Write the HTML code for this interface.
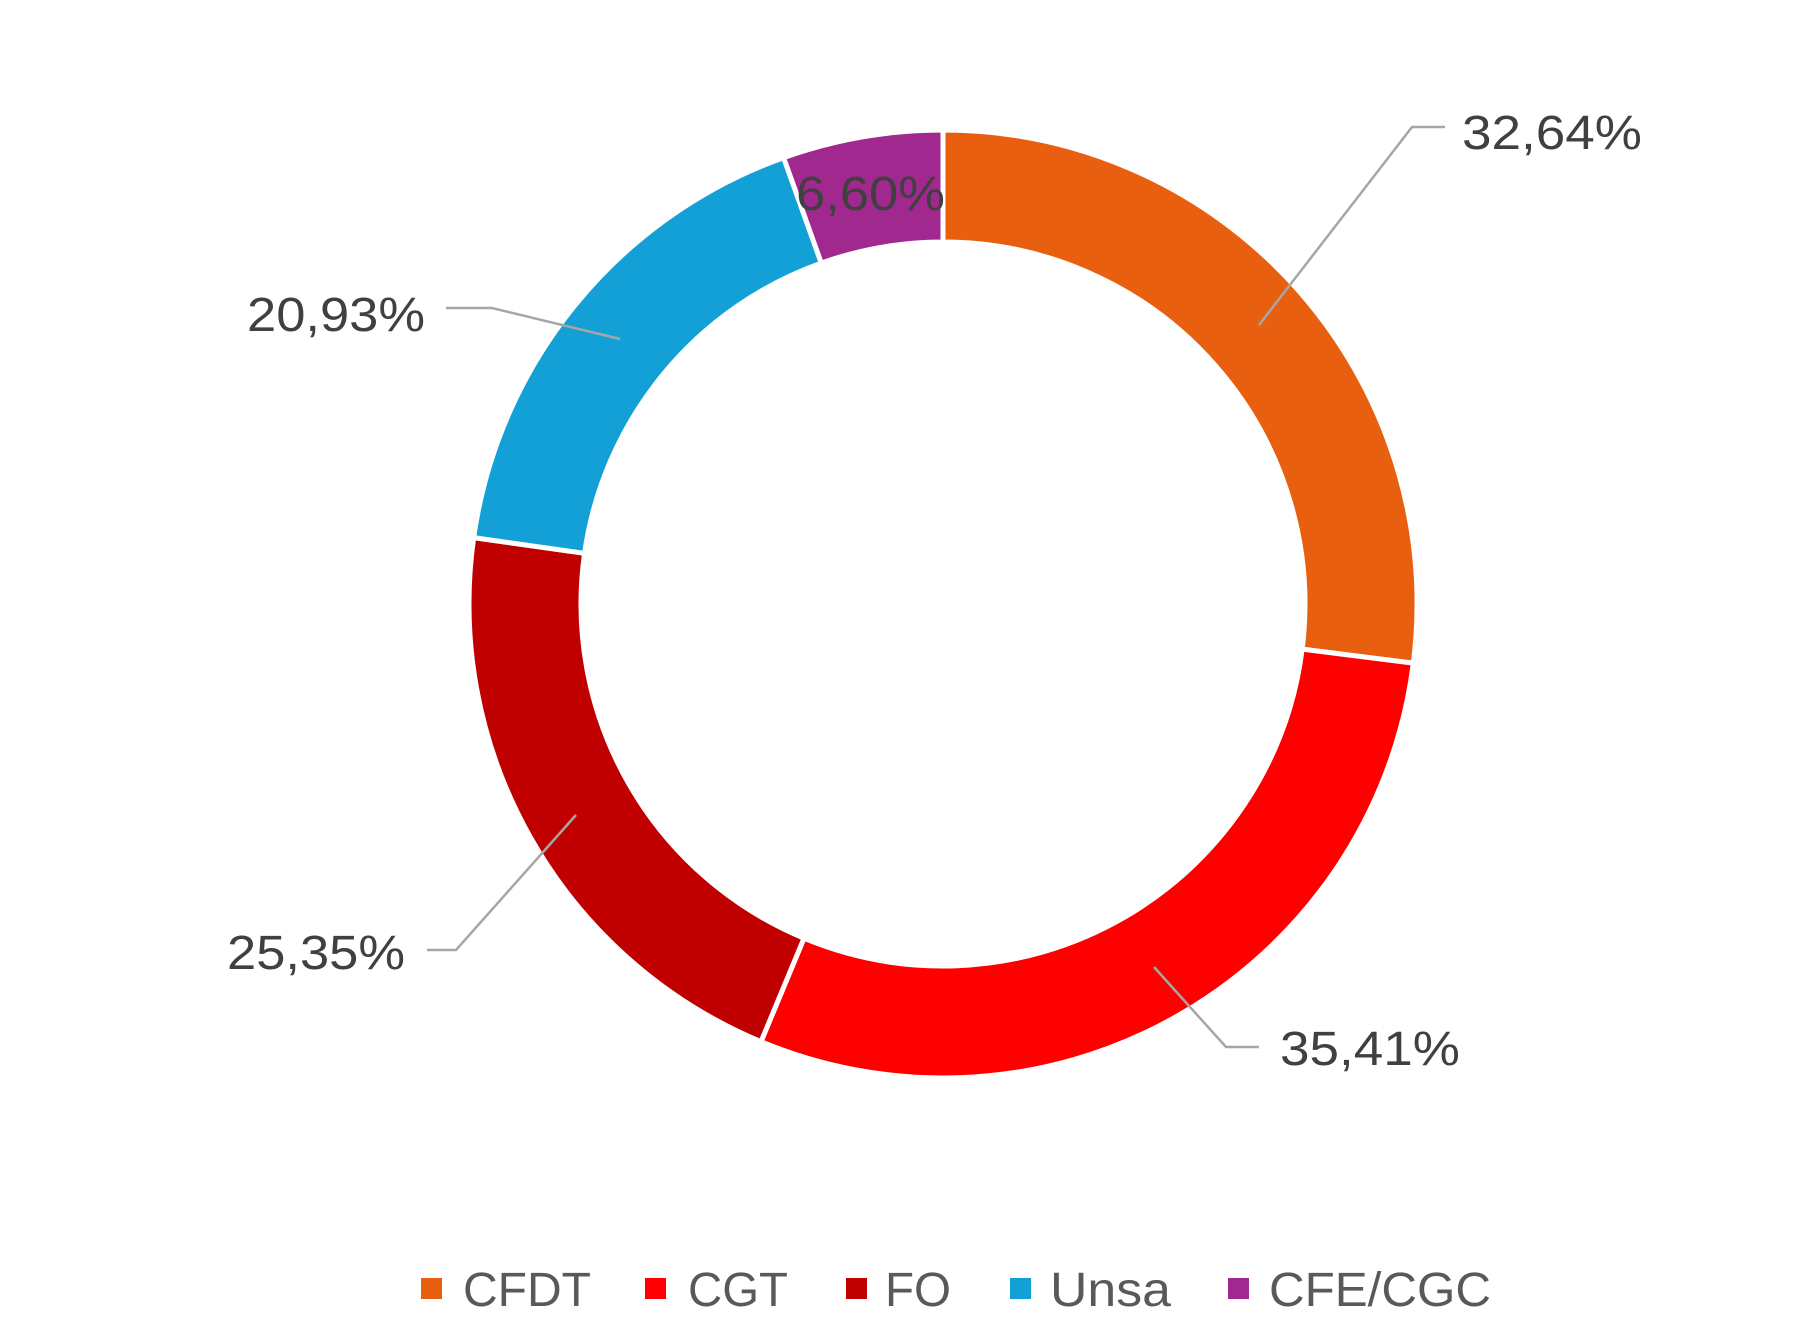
<!DOCTYPE html>
<html><head><meta charset="utf-8"><style>
html,body{margin:0;padding:0;background:#fff;width:1812px;height:1342px;overflow:hidden}
text{font-family:"Liberation Sans",sans-serif;fill:#404040}
</style></head><body>
<svg id="s" width="1812" height="1342" viewBox="0 0 1812 1342" xmlns="http://www.w3.org/2000/svg">
<g transform="translate(-5,-4)">
<g id="arcs"></g>
<g fill="none" stroke="#a6a6a6" stroke-width="2.5">
<polyline points="1264,329 1417,131 1450,131"/>
<polyline points="451,312 497,312 625,343"/>
<polyline points="432,954 461,954 581,819"/>
<polyline points="1159,971 1231,1051 1264,1051"/>
</g>
<g font-size="48">
<text x="1467" y="153" textLength="180" lengthAdjust="spacingAndGlyphs">32,64%</text>
<text x="801" y="214" textLength="149" lengthAdjust="spacingAndGlyphs">6,60%</text>
<text x="252" y="335" textLength="178" lengthAdjust="spacingAndGlyphs">20,93%</text>
<text x="232" y="973" textLength="178" lengthAdjust="spacingAndGlyphs">25,35%</text>
<text x="1285" y="1069" textLength="180" lengthAdjust="spacingAndGlyphs">35,41%</text>
</g>
<g>
<rect x="426" y="1282" width="21" height="21" fill="#E8600F"/>
<rect x="650" y="1282" width="21" height="21" fill="#FF0000"/>
<rect x="851" y="1282" width="21" height="21" fill="#C00000"/>
<rect x="1015" y="1282" width="21" height="21" fill="#12A0D7"/>
<rect x="1233" y="1282" width="21" height="21" fill="#A0288F"/>
</g>
<g font-size="48">
<text x="468" y="1310" textLength="128" lengthAdjust="spacingAndGlyphs" style="fill:#595959">CFDT</text>
<text x="693" y="1310" textLength="100" lengthAdjust="spacingAndGlyphs" style="fill:#595959">CGT</text>
<text x="890" y="1310" textLength="66" lengthAdjust="spacingAndGlyphs" style="fill:#595959">FO</text>
<text x="1055" y="1310" textLength="121" lengthAdjust="spacingAndGlyphs" style="fill:#595959">Unsa</text>
<text x="1274" y="1310" textLength="222" lengthAdjust="spacingAndGlyphs" style="fill:#595959">CFE/CGC</text>
</g>
</g>
</svg>
<script>
var cx=948,cy=608,R=474,r=362;
var vals=[32.64,35.41,25.35,20.93,6.60],cols=["#E8600F","#FF0000","#C00000","#12A0D7","#A0288F"];
var tot=vals.reduce(function(a,b){return a+b},0),a0=0,h="";
function pt(rad,a){return [cx+rad*Math.sin(a),cy-rad*Math.cos(a)];}
for(var i=0;i<vals.length;i++){
 var a1=a0+vals[i]/tot*2*Math.PI,l=(a1-a0)>Math.PI?1:0;
 var p1=pt(R,a0),p2=pt(R,a1),p3=pt(r,a1),p4=pt(r,a0);
 h+='<path d="M'+p1+' A'+R+','+R+' 0 '+l+' 1 '+p2+' L'+p3+' A'+r+','+r+' 0 '+l+' 0 '+p4+' Z" fill="'+cols[i]+'" stroke="#fff" stroke-width="5"/>';
 a0=a1;}
document.getElementById("arcs").innerHTML=h;
</script>
</body></html>
